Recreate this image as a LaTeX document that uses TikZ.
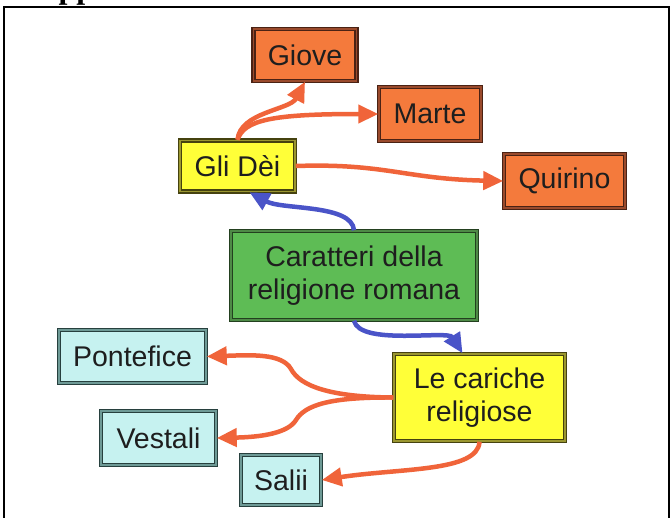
\documentclass[tikz,border=0pt]{standalone}
\usepackage{fontspec}
\setmainfont{Liberation Sans}
\newfontfamily\titlefont{Liberation Serif}
\usetikzlibrary{arrows.meta}

\definecolor{orfill}{HTML}{F47A3C}
\definecolor{ordraw}{HTML}{4A2214}
\definecolor{ormid}{HTML}{9A4A2C}
\definecolor{yefill}{HTML}{FFFF38}
\definecolor{yedraw}{HTML}{45420F}
\definecolor{yemid}{HTML}{9A9630}
\definecolor{grfill}{HTML}{5EBC55}
\definecolor{grdraw}{HTML}{23401F}
\definecolor{grmid}{HTML}{4E8A46}
\definecolor{cyfill}{HTML}{C6F2F0}
\definecolor{cydraw}{HTML}{27403E}
\definecolor{cymid}{HTML}{6E9A96}
\definecolor{arrorange}{HTML}{F0643A}
\definecolor{arrblue}{HTML}{4A54C8}
\definecolor{txt}{HTML}{1E1E1E}

\tikzset{
  box/.style={rectangle, line width=1.5pt, double distance=1.2pt,
    text=txt, font=\fontsize{28.5}{33}\selectfont, align=center, inner sep=0pt},
  orbox/.style={box, fill=orfill, draw=ordraw, double=ormid},
  yebox/.style={box, fill=yefill, draw=yedraw, double=yemid},
  grbox/.style={box, fill=grfill, draw=grdraw, double=grmid},
  cybox/.style={box, fill=cyfill, draw=cydraw, double=cymid},
  oarrow/.style={draw=arrorange, line width=4.5pt,
    -{Triangle[length=20pt,width=18pt]}},
  barrow/.style={draw=arrblue, line width=4.5pt,
    -{Triangle[length=20pt,width=18pt]}},
}

\begin{document}
\begin{tikzpicture}[x=1pt, y=-1pt]
\useasboundingbox (0,0) rectangle (671,517);
\fill[white] (0,0) rectangle (671,517);

% heading, only its lower edge falls on the page
\node[anchor=base west, inner sep=0pt, font=\titlefont\bfseries\fontsize{32}{36}\selectfont]
  (head) at (58.5,-2) {pp};

% frame open at the bottom
\draw[line width=2.2pt] (4.3,540) -- (4.3,7) -- (669.3,7) -- (669.3,540);

% boxes
\node[orbox, minimum width=103pt, minimum height=52pt] (giove) at (305,55) {Giove};
\node[orbox, minimum width=102pt, minimum height=54pt] (marte) at (430,114) {Marte};
\node[yebox, minimum width=115pt, minimum height=51pt] (gli) at (237.5,166) {Gli Dèi};
\node[orbox, minimum width=121pt, minimum height=54pt] (quirino) at (564.5,181) {Quirino};
\node[grbox, minimum width=246pt, minimum height=89pt] (car) at (354,275.5)
  {Caratteri della\\religione romana};
\node[yebox, minimum width=171pt, minimum height=87pt] (cariche) at (479.5,397.5)
  {Le cariche\\religiose};
\node[cybox, minimum width=147pt, minimum height=53pt] (pont) at (132.5,356.5) {Pontefice};
\node[cybox, minimum width=115pt, minimum height=54pt] (vest) at (158.5,438) {Vestali};
\node[cybox, minimum width=80pt, minimum height=50pt] (salii) at (281,480) {Salii};

% connectors from the gods' box
\draw[oarrow] (gli.north) .. controls (240,112) and (290,110) .. (giove.south);
\draw[oarrow] (gli.north) .. controls (244,120) and (272,114) .. (marte.west);
\draw[oarrow] (gli.east) .. controls (385,163) and (405,179) .. (quirino.west);

% connectors from the central box
\draw[barrow] (car.north) .. controls (352,204) and (282,210) .. ([xshift=12pt]gli.south);
\draw[barrow] (car.south) .. controls (360,346) and (448,330) .. ([xshift=-17pt]cariche.north);

% connectors to the offices
\draw[oarrow] (cariche.west) .. controls (330,397) and (300,386) .. (291,369)
  .. controls (282,353) and (250,355) .. (pont.east);
\draw[oarrow] (cariche.west) .. controls (330,397) and (305,405) .. (296,420)
  .. controls (288,433) and (262,437) .. (vest.east);
\draw[oarrow] (cariche.south) .. controls (478,472) and (400,468) .. (salii.east);
\end{tikzpicture}
\end{document}
